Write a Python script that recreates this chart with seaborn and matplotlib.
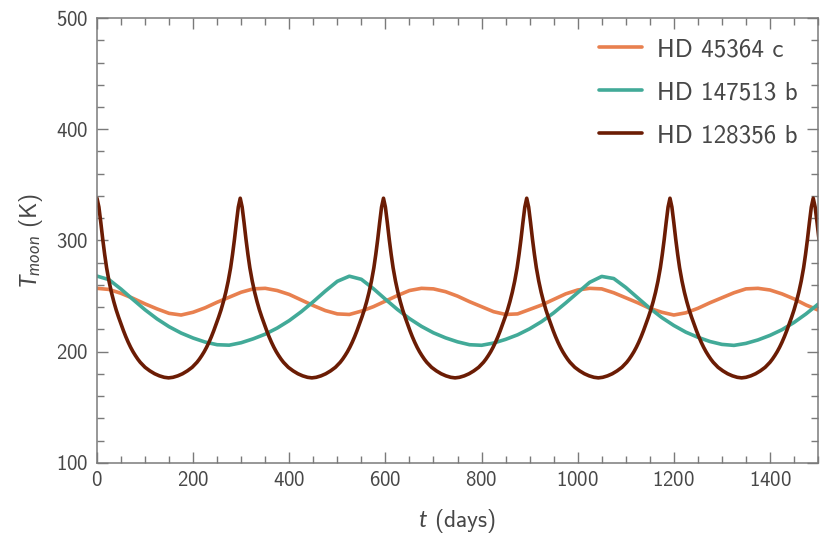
import matplotlib
matplotlib.use("Agg")
import matplotlib.pyplot as plt
from matplotlib.ticker import MultipleLocator
import seaborn as sns

sns.set_style("ticks")
plt.rcParams['font.family'] = ['cmss10', 'DejaVu Sans']
plt.rcParams['mathtext.fontset'] = 'custom'
plt.rcParams['mathtext.rm'] = 'cmss10'
plt.rcParams['mathtext.it'] = 'Lato:italic'
plt.rcParams['axes.formatter.use_mathtext'] = True

TXT = "#474747"
AX = "#7a7a7a"

# HD 45364 c, read every 25 days
t_45364 = list(range(0, 1501, 25))
T_45364 = [257, 256, 252.5, 248, 243, 238.5, 234.5, 233, 235.5, 239.5,
           244.5, 249, 253.5, 256.5, 257, 255, 251.5, 246.5, 241.5, 237,
           234, 233.5, 236.5, 240.5, 245.5, 250.5, 255, 257, 256.5, 254,
           250, 245, 240.5, 236, 233.5, 234, 238, 242, 247, 252,
           255.5, 257, 256.5, 253, 248.5, 244, 239, 235.5, 233, 235,
           239, 244, 248.5, 253, 256.5, 257, 255.5, 252, 247.5, 242, 237.5]

# HD 147513 b, read every 25 days
t_147513 = list(range(0, 1501, 25))
T_147513 = [268, 264.8, 256.3, 246.9, 237.7, 229.5, 222.5, 216.8, 212.3, 208.7,
            206.3, 205.9, 208.1, 211.6, 215.8, 221.3, 228, 236, 245, 254.5,
            263.3, 267.9, 265.1, 256.7, 247.2, 238, 229.8, 222.8, 217, 212.5,
            208.9, 206.3, 205.8, 207.8, 211.1, 215.2, 220.6, 227.1, 234.9, 243.8,
            253.1, 262.4, 267.7, 265.8, 257.8, 248.4, 239.1, 230.7, 223.6, 217.6,
            213, 209.2, 206.6, 205.7, 207.5, 210.6, 214.7, 219.8, 226.3, 234, 242.7]

# HD 128356 b, denser around the sharp maxima (one row per half cycle)
t_128356 = [
    0, 4, 8, 12, 16, 20, 25, 30, 35, 40, 45, 50, 55, 60, 65, 70, 75, 80, 85, 90, 95, 100, 110, 120, 130, 140,
    149, 158, 168, 178, 188, 198, 203, 208, 213, 218, 223, 228, 233, 238, 243, 248, 253, 258, 263, 268, 273, 278, 282, 286, 290, 294,
    298, 302, 306, 310, 314, 318, 323, 328, 333, 338, 343, 348, 353, 358, 363, 368, 373, 378, 383, 388, 393, 398, 408, 418, 428, 438,
    447, 456, 466, 476, 486, 496, 501, 506, 511, 516, 521, 526, 531, 536, 541, 546, 551, 556, 561, 566, 571, 576, 580, 584, 588, 592,
    596, 600, 604, 608, 612, 616, 621, 626, 631, 636, 641, 646, 651, 656, 661, 666, 671, 676, 681, 686, 691, 696, 706, 716, 726, 736,
    745, 754, 764, 774, 784, 794, 799, 804, 809, 814, 819, 824, 829, 834, 839, 844, 849, 854, 859, 864, 869, 874, 878, 882, 886, 890,
    894, 898, 902, 906, 910, 914, 919, 924, 929, 934, 939, 944, 949, 954, 959, 964, 969, 974, 979, 984, 989, 994, 1004, 1014, 1024, 1034,
    1043, 1052, 1062, 1072, 1082, 1092, 1097, 1102, 1107, 1112, 1117, 1122, 1127, 1132, 1137, 1142, 1147, 1152, 1157, 1162, 1167, 1172, 1176, 1180, 1184, 1188,
    1192, 1196, 1200, 1204, 1208, 1212, 1217, 1222, 1227, 1232, 1237, 1242, 1247, 1252, 1257, 1262, 1267, 1272, 1277, 1282, 1287, 1292, 1302, 1312, 1322, 1332,
    1341, 1350, 1360, 1370, 1380, 1390, 1395, 1400, 1405, 1410, 1415, 1420, 1425, 1430, 1435, 1440, 1445, 1450, 1455, 1460, 1465, 1470, 1474, 1478, 1482, 1486,
    1490, 1494, 1498, 1502]
T_128356 = [
    338, 330, 316, 301, 287.5, 275.5, 263.5, 253.5, 245, 237.5, 231, 225, 219, 213.5, 208.5, 204, 200, 196.5, 193.3, 190.5, 188.2, 186, 182.8, 180.2, 178.3, 177,
    176.5, 177, 178.3, 180.2, 182.8, 186, 188.2, 190.5, 193.3, 196.5, 200, 204, 208.5, 213.5, 219, 225, 231, 237.5, 245, 253.5, 263.5, 275.5, 287.5, 301, 316, 330,
    338, 330, 316, 301, 287.5, 275.5, 263.5, 253.5, 245, 237.5, 231, 225, 219, 213.5, 208.5, 204, 200, 196.5, 193.3, 190.5, 188.2, 186, 182.8, 180.2, 178.3, 177,
    176.5, 177, 178.3, 180.2, 182.8, 186, 188.2, 190.5, 193.3, 196.5, 200, 204, 208.5, 213.5, 219, 225, 231, 237.5, 245, 253.5, 263.5, 275.5, 287.5, 301, 316, 330,
    338, 330, 316, 301, 287.5, 275.5, 263.5, 253.5, 245, 237.5, 231, 225, 219, 213.5, 208.5, 204, 200, 196.5, 193.3, 190.5, 188.2, 186, 182.8, 180.2, 178.3, 177,
    176.5, 177, 178.3, 180.2, 182.8, 186, 188.2, 190.5, 193.3, 196.5, 200, 204, 208.5, 213.5, 219, 225, 231, 237.5, 245, 253.5, 263.5, 275.5, 287.5, 301, 316, 330,
    338, 330, 316, 301, 287.5, 275.5, 263.5, 253.5, 245, 237.5, 231, 225, 219, 213.5, 208.5, 204, 200, 196.5, 193.3, 190.5, 188.2, 186, 182.8, 180.2, 178.3, 177,
    176.5, 177, 178.3, 180.2, 182.8, 186, 188.2, 190.5, 193.3, 196.5, 200, 204, 208.5, 213.5, 219, 225, 231, 237.5, 245, 253.5, 263.5, 275.5, 287.5, 301, 316, 330,
    338, 330, 316, 301, 287.5, 275.5, 263.5, 253.5, 245, 237.5, 231, 225, 219, 213.5, 208.5, 204, 200, 196.5, 193.3, 190.5, 188.2, 186, 182.8, 180.2, 178.3, 177,
    176.5, 177, 178.3, 180.2, 182.8, 186, 188.2, 190.5, 193.3, 196.5, 200, 204, 208.5, 213.5, 219, 225, 231, 237.5, 245, 253.5, 263.5, 275.5, 287.5, 301, 316, 330,
    338, 330, 316, 301]

names = ["HD 45364 c", "HD 147513 b", "HD 128356 b"]
colors = ["#e8804f", "#42aa98", "#6b1c04"]


def main():
    fig = plt.figure(figsize=(8.31, 5.49), dpi=100)
    ax = fig.add_axes([0.1167, 0.1567, 0.8677, 0.8105])

    series = [(t_45364, T_45364), (t_147513, T_147513), (t_128356, T_128356)]
    for (t, T), name, c in zip(series, names, colors):
        sns.lineplot(x=t, y=T, ax=ax, color=c, lw=2.6, label=name, sort=False,
                     solid_joinstyle='round')

    ax.set_xlim(0, 1500)
    ax.set_ylim(100, 500)
    ax.xaxis.set_major_locator(MultipleLocator(200))
    ax.xaxis.set_minor_locator(MultipleLocator(50))
    ax.yaxis.set_major_locator(MultipleLocator(100))
    ax.yaxis.set_minor_locator(MultipleLocator(20))
    ax.tick_params(which='both', direction='in', top=True, right=True,
                   color=AX, labelcolor=TXT, labelsize=15, width=1)
    ax.tick_params(which='major', length=8, pad=6)
    ax.tick_params(which='minor', length=5)
    for s in ax.spines.values():
        s.set_color(AX)
        s.set_linewidth(1.1)

    ax.set_xlabel(r"$t$ (days)", fontsize=17, color=TXT, labelpad=12)
    ax.set_ylabel(r"$T_{moon}$ (K)", fontsize=17, color=TXT, labelpad=8)

    leg = ax.legend(loc='upper right', frameon=False, fontsize=18,
                    handlelength=1.75, labelspacing=0.8, borderaxespad=0.4,
                    handletextpad=0.6)
    for txt in leg.get_texts():
        txt.set_color(TXT)

    fig.savefig("out.png", dpi=100)


if __name__ == '__main__':
    main()
